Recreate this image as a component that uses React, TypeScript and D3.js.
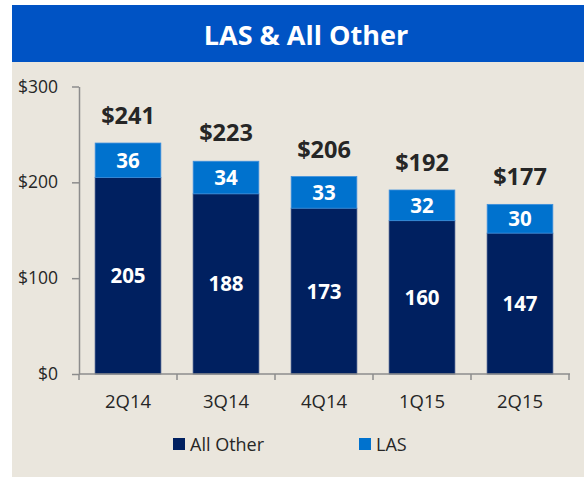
import React, { useEffect, useRef } from "react";
import * as d3 from "d3";

const quarters = ["2Q14", "3Q14", "4Q14", "1Q15", "2Q15"];
const allOther = [205, 188, 173, 160, 147];
const las = [36, 34, 33, 32, 30];
const totals = [241, 223, 206, 192, 177];
const yTicks = [0, 100, 200, 300];

const W = 584;
const H = 477;
const FONT = "'Open Sans', 'Noto Sans', sans-serif";
const NAVY = "#002060";
const LIGHT = "#0072CE";
const AXIS = "#8c8c8c";

const App = () => {
  const yAxisRef = useRef<SVGGElement>(null);

  const x = d3
    .scaleBand()
    .domain(quarters)
    .range([79, 569])
    .paddingInner(0.33)
    .paddingOuter(0.165);
  const y = d3.scaleLinear().domain([0, 300]).range([374, 86.5]);
  const step = x.step();
  const x0 = x.range()[0];

  useEffect(() => {
    const g = d3.select(yAxisRef.current);
    g.selectAll("*").remove();
    g.call(
      d3
        .axisLeft(y)
        .tickValues(yTicks)
        .tickFormat((d) => "$" + d)
        .tickSizeInner(7)
        .tickSizeOuter(0)
        .tickPadding(14)
    );
    g.select(".domain").attr("stroke", AXIS).attr("stroke-width", 1.5);
    g.selectAll(".tick line").attr("stroke", AXIS).attr("stroke-width", 1.5);
    g.selectAll(".tick text")
      .attr("fill", "#262626")
      .style("font-family", FONT)
      .style("font-size", "17.5px");
  }, []);

  return (
    <svg
      width={W}
      height={H}
      style={{ position: "absolute", left: 0, top: 0, background: "#fff" }}
    >
      <rect x={12} y={62} width={W - 12} height={H - 62} fill="#EAE6DD" />
      <rect x={12} y={5} width={W - 12} height={57} fill="#0053C4" />
      <text
        x={306}
        y={45}
        textAnchor="middle"
        fill="#fff"
        fontFamily={FONT}
        fontWeight="bold"
        fontSize={27}
      >
        LAS &amp; All Other
      </text>

      {quarters.map((q, i) => {
        const bx = x(q) as number;
        const bw = x.bandwidth();
        const yOther = y(allOther[i]);
        const yTop = y(allOther[i] + las[i]);
        return (
          <g key={q}>
            <rect
              x={bx}
              y={yOther}
              width={bw}
              height={y(0) - yOther}
              fill={NAVY}
              stroke="#24407a"
              strokeWidth={0.8}
            />
            <rect
              x={bx}
              y={yTop}
              width={bw}
              height={yOther - yTop}
              fill={LIGHT}
              stroke="#3d8fdc"
              strokeWidth={0.8}
            />
            <text
              x={bx + bw / 2}
              y={(yOther + y(0)) / 2 + 7.5}
              textAnchor="middle"
              fill="#fff"
              fontFamily={FONT}
              fontWeight="bold"
              fontSize={20.5}
            >
              {allOther[i]}
            </text>
            <text
              x={bx + bw / 2}
              y={(yOther + yTop) / 2 + 7.5}
              textAnchor="middle"
              fill="#fff"
              fontFamily={FONT}
              fontWeight="bold"
              fontSize={20.5}
            >
              {las[i]}
            </text>
            <text
              x={bx + bw / 2}
              y={y(totals[i]) - 19}
              textAnchor="middle"
              fill="#262626"
              fontFamily={FONT}
              fontWeight="bold"
              fontSize={23.5}
            >
              {"$" + totals[i]}
            </text>
            <text
              x={bx + bw / 2}
              y={408}
              textAnchor="middle"
              fill="#262626"
              fontFamily={FONT}
              fontSize={18.5}
            >
              {q}
            </text>
          </g>
        );
      })}

      <g ref={yAxisRef} transform="translate(79,0)" />

      {/* x axis with ticks on band edges */}
      <line x1={x0} x2={x0 + step * quarters.length + 1} y1={y(0)} y2={y(0)} stroke={AXIS} strokeWidth={1.5} />
      {d3.range(quarters.length + 1).map((i) => (
        <line
          key={i}
          x1={x0 + i * step}
          x2={x0 + i * step}
          y1={y(0)}
          y2={y(0) + 6}
          stroke={AXIS}
          strokeWidth={1.5}
        />
      ))}

      {/* legend */}
      <rect x={173} y={438} width={12} height={12} fill={NAVY} />
      <text x={190} y={450.5} fill="#262626" fontFamily={FONT} fontSize={18}>
        All Other
      </text>
      <rect x={359} y={438} width={12} height={12} fill={LIGHT} />
      <text x={376} y={450.5} fill="#262626" fontFamily={FONT} fontSize={18}>
        LAS
      </text>
    </svg>
  );
};

export default App;
